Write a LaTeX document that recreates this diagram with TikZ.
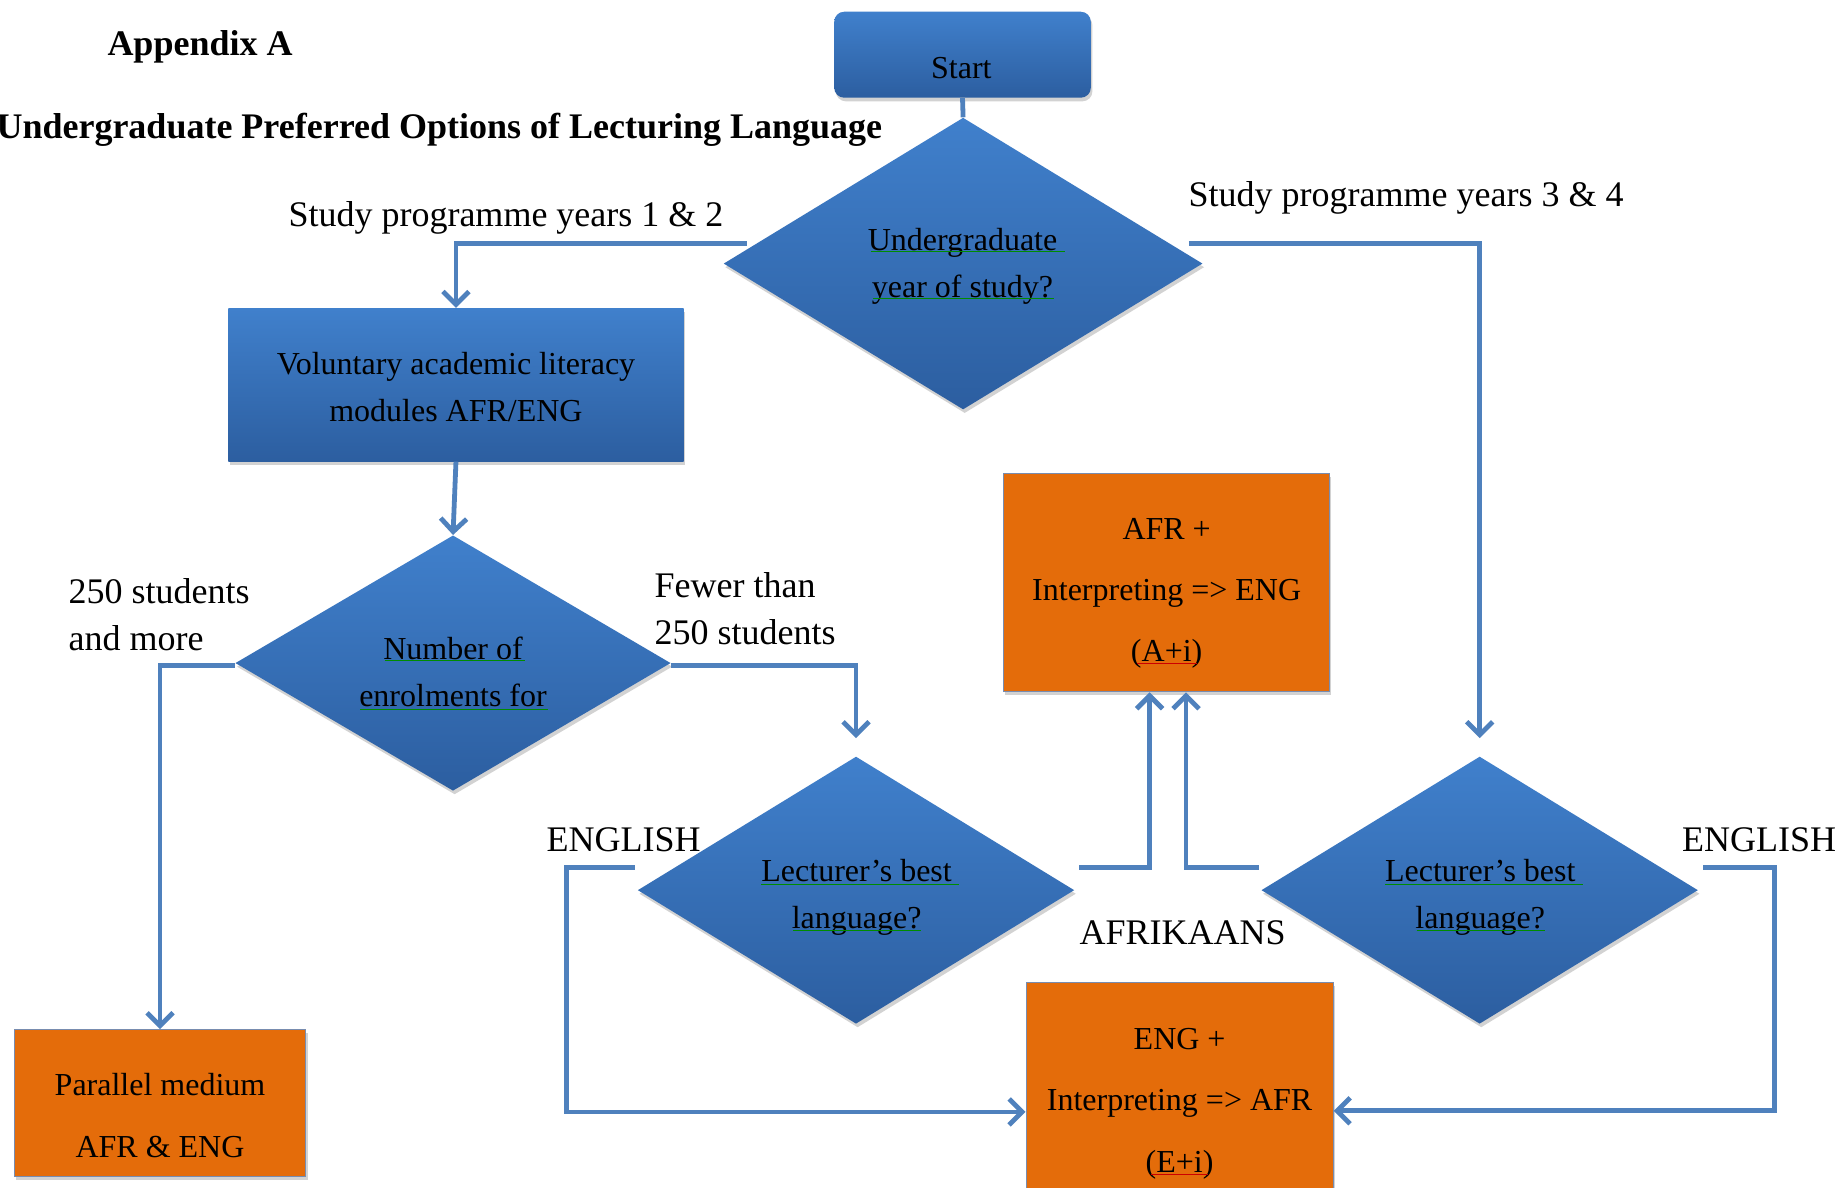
\documentclass[tikz,border=0pt]{standalone}
\usepackage{fontspec}
\setmainfont{Liberation Serif}
\usetikzlibrary{shapes.geometric,arrows.meta,calc,shadows,decorations.pathmorphing}
\definecolor{cblue}{RGB}{79,129,189}
\definecolor{btop}{RGB}{64,128,204}
\definecolor{bbot}{RGB}{44,94,160}
\definecolor{orng}{RGB}{228,108,10}
\definecolor{oedge}{RGB}{120,140,175}
\begin{document}
\begin{tikzpicture}[x=0.58835pt,y=-0.58835pt,
  bluefill/.style={top color=btop,bottom color=bbot,draw=none,
    drop shadow={shadow xshift=0.8pt,shadow yshift=-1.8pt,opacity=0.35}},
  dia/.style={diamond,bluefill,inner sep=0pt},
  bluebox/.style={rectangle,bluefill,inner sep=0pt},
  orbox/.style={rectangle,fill=orng,draw=oedge,line width=0.5pt,inner sep=0pt,
    drop shadow={shadow xshift=0.8pt,shadow yshift=-1.8pt,opacity=0.35}},
  txt/.style={inner sep=0pt,align=center,font=\fontsize{16}{23.5}\selectfont},
  otxt/.style={inner sep=0pt,align=center,font=\fontsize{16}{30.6}\selectfont},
  lbl/.style={font=\fontsize{18}{23.5}\selectfont,inner sep=0pt},
  conn/.style={draw=cblue,line width=2.4pt},
  arr/.style={conn,-{Straight Barb[length=6.5pt,width=13pt]}},
  squig/.style={decorate,decoration={snake,amplitude=0.5pt,segment length=2.5pt},line width=0.4pt},
]
\useasboundingbox (0,0) rectangle (1568,1009);
\fill[white] (0,0) rectangle (1568,1009);

% titles
\node[font=\bfseries\fontsize{18}{22}\selectfont,inner sep=0pt] (app) at (170,40) {Appendix A};
\node[font=\bfseries\fontsize{18}{22}\selectfont,inner sep=0pt,anchor=east] (ttl) at (750,110)
  {Undergraduate Preferred Options of Lecturing Language};

% shapes
\node[bluebox,rounded corners=5pt,minimum width=128.3pt,minimum height=43pt] (start) at (818,46.5) {};
\node[dia,minimum width=239.5pt,minimum height=145.9pt] (d1) at (818.5,224) {};
\node[bluebox,minimum width=227.7pt,minimum height=76.5pt] (vol) at (387.5,327) {};
\node[dia,minimum width=217.7pt,minimum height=127.7pt] (d2) at (385,563.5) {};
\node[orbox,minimum width=145.9pt,minimum height=73.5pt] (par) at (136,937.5) {};
\node[dia,minimum width=218.3pt,minimum height=133.6pt] (d3) at (727.5,756.5) {};
\node[dia,minimum width=218.3pt,minimum height=133.6pt] (d4) at (1257.5,756.5) {};
\node[orbox,minimum width=163pt,minimum height=109.4pt] (ai) at (991.5,495) {};
\node[orbox,minimum width=153.6pt,minimum height=116.5pt] (ei) at (1002.5,934) {};

% shape texts
\node[txt] (startt) at (817,58) {Start};
\node[txt] (d1t) at (818,226) {Undergraduate\\year of study?};
\node[txt] (volt) at (387.5,329) {Voluntary academic literacy\\modules AFR/ENG};
\node[txt] (d2t) at (385,571) {Number of\\enrolments for};
\node[otxt] (part) at (136,948) {Parallel medium\\AFR \& ENG};
\node[txt] (d3t) at (728,763) {Lecturer’s best\\language?};
\node[txt] (d4t) at (1258,763) {Lecturer’s best\\language?};
\node[otxt] (ait) at (991.5,504) {AFR +\\Interpreting => ENG\\(A+i)};
\node[otxt] (eit) at (1002.5,938) {ENG +\\Interpreting => AFR\\(E+i)};

% connectors
\draw[conn] (start.south) -- (d1.north);
\draw[arr] ($(d1.west)+(20,-17)$) -| (vol.north);
\draw[arr,shorten >=9pt] ($(d1.east)+(-12,-17)$) -| (d4.north);
\draw[arr] (vol.south) -- (d2.north);
\draw[arr] ($(d2.west)+(0,2)$) -| (par.north);
\draw[arr,shorten >=9pt] ($(d2.east)+(0,2)$) -| (d3.north);
\draw[arr] ($(d3.east)+(4,-19.5)$) -| ($(ai.south)+(-14.5,0)$);
\draw[arr] ($(d4.west)+(-2,-19.5)$) -| ($(ai.south)+(16.5,0)$);
\coordinate (le) at ($(d3.west)+(-60,-19.5)$);
\draw[arr] ($(d3.west)+(-2,-19.5)$) -- (le) |- ($(ei.west)+(0,11)$);
\coordinate (re) at ($(d4.east)+(65,-19.5)$);
\draw[arr] ($(d4.east)+(4,-19.5)$) -- (re) |- ($(ei.east)+(0,10)$);

% labels
\node[lbl] (l12) at (430,185) {Study programme years 1 \& 2};
\node[lbl] (l34) at (1195,168) {Study programme years 3 \& 4};
\node[lbl,anchor=west,align=left] (l250) at (58,522) {250 students\\and more};
\node[lbl,anchor=west,align=left] (lfew) at (556,517) {Fewer than\\250 students};
\node[lbl] (le1) at (530,714) {ENGLISH};
\node[lbl] (le2) at (1495,714) {ENGLISH};
\node[lbl] (laf) at (1005,793) {AFRIKAANS};

% spell-check underlines
\begin{scope}[squig,draw=green!55!black]
\draw (740,214) -- (905,214);
\draw (742,254) -- (896,254);
\draw (327,561) -- (446,561);
\draw (306,603) -- (466,603);
\draw (647,752) -- (815,752);
\draw (674,791) -- (783,791);
\draw (1177,752) -- (1345,752);
\draw (1204,791) -- (1313,791);
\end{scope}
\begin{scope}[squig,draw=red!80!black]
\draw (966,564) -- (1017,564);
\draw (978,998) -- (1027,998);
\end{scope}
\end{tikzpicture}
\end{document}
